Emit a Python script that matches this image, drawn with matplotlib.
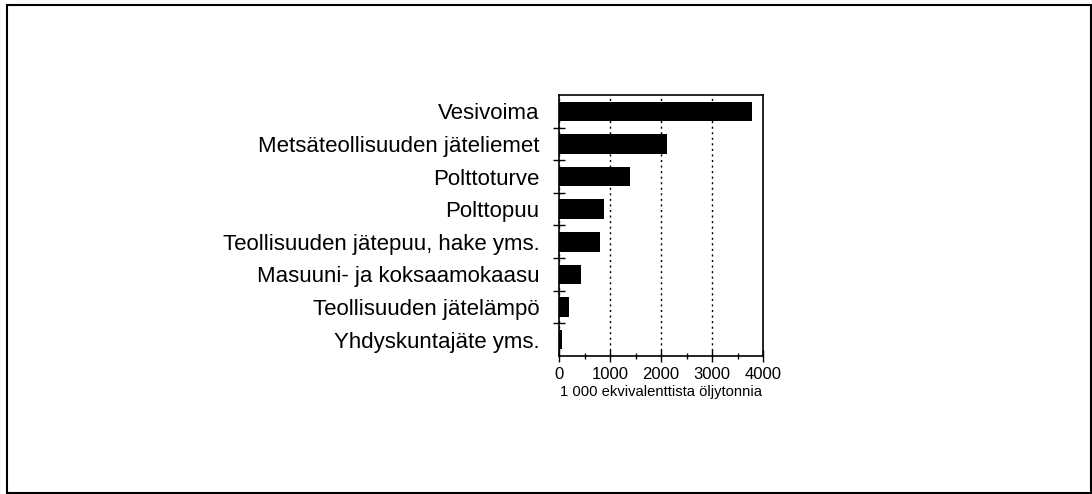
import matplotlib
matplotlib.use("Agg")
import matplotlib.pyplot as plt
from matplotlib.ticker import MultipleLocator, FixedLocator
import numpy as np

categories = [
    "Vesivoima",
    "Metsäteollisuuden jäteliemet",
    "Polttoturve",
    "Polttopuu",
    "Teollisuuden jätepuu, hake yms.",
    "Masuuni- ja koksaamokaasu",
    "Teollisuuden jätelämpö",
    "Yhdyskuntajäte yms.",
]
values = [3780, 2110, 1400, 880, 800, 430, 200, 50]
xticks = [0, 1000, 2000, 3000, 4000]
xlabel = "1 000 ekvivalenttista öljytonnia"

plt.rcParams['font.family'] = ['Liberation Sans', 'DejaVu Sans']

fig = plt.figure(figsize=(10.92, 4.94), dpi=100)
# outer frame
fig.patches.append(plt.Rectangle((7/1092, 1-493/494), (1091-7)/1092, (493-5)/494,
                                 transform=fig.transFigure, fill=False,
                                 edgecolor='black', linewidth=1.5))

ax = fig.add_axes([559/1092, 1-356/494, 204/1092, 261/494])
y = np.arange(len(categories))
ax.barh(y, values, height=0.6, color='black')
ax.set_ylim(len(categories) - 0.5, -0.5)
ax.set_xlim(0, 4000)

ax.set_yticks(y)
ax.set_yticklabels(categories, fontsize=16)
ax.yaxis.set_minor_locator(FixedLocator(np.arange(0.5, len(categories) - 0.5, 1)))
ax.tick_params(axis='y', which='major', length=0, pad=14)
ax.tick_params(axis='y', which='minor', direction='inout', length=8, width=1)

ax.set_xticks(xticks)
ax.set_xticklabels([str(v) for v in xticks], fontsize=12)
ax.xaxis.set_minor_locator(MultipleLocator(500))
ax.tick_params(axis='x', which='major', direction='inout', length=8, width=1, pad=4)
ax.tick_params(axis='x', which='minor', direction='inout', length=5, width=1)
ax.set_xlabel(xlabel, fontsize=10.6, labelpad=2)

ax.grid(axis='x', which='major', linestyle=(0, (1.5, 2.5)), color='black', linewidth=1)
ax.set_axisbelow(True)
for s in ax.spines.values():
    s.set_linewidth(1.2)

fig.savefig("out.png", dpi=100)
